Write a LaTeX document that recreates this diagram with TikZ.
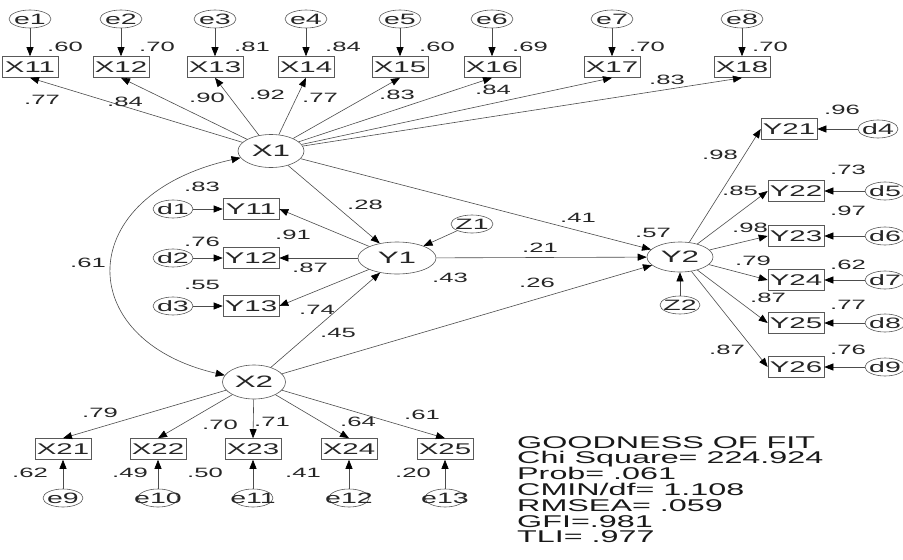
\documentclass[tikz,border=0pt]{standalone}
\usepackage{fontspec}
\setmainfont{Liberation Sans}[FakeStretch=1.9]
\usetikzlibrary{shapes.geometric,arrows.meta}
\newcommand{\zw}[1]{\makebox[0pt]{#1}}
\tikzset{
 lat/.style={ellipse, draw=black!65, line width=0.6pt, inner sep=0pt, text=black!85, font=\fontsize{16.5}{16.5}\selectfont},
 err/.style={ellipse, draw=black!65, line width=0.6pt, inner sep=0pt, minimum width=40pt, minimum height=18pt, text=black!85, font=\fontsize{15}{15}\selectfont},
 obs/.style={rectangle, draw=black!65, line width=0.6pt, inner sep=0pt, minimum width=56pt, minimum height=21pt, text=black!85, font=\fontsize{15.5}{15.5}\selectfont},
 num/.style={inner sep=0pt, text=black!85, font=\fontsize{13.5}{13.5}\selectfont},
 fitline/.style={inner sep=0pt, anchor=base west, text=black!90, font=\fontsize{17}{17}\selectfont},
 tip/.tip={Triangle[length=9pt,width=7pt,color=black]},
 arr/.style={draw=black!70, line width=0.6pt, -tip},
 dbl/.style={draw=black!70, line width=0.6pt, tip-tip},
}
\begin{document}
\begin{tikzpicture}[x=1pt,y=-1pt]
\useasboundingbox[fill=white] (0,0) rectangle (903,560);
% latent variables
\node[lat, minimum width=66pt, minimum height=33pt] (X1) at (271,151) {\zw{X1}};
\node[lat, minimum width=78pt, minimum height=32pt] (Y1) at (397,258) {\zw{Y1}};
\node[lat, minimum width=66pt, minimum height=30pt] (Y2) at (680,257) {\zw{Y2}};
\node[lat, minimum width=63pt, minimum height=34pt] (X2) at (254,382) {\zw{X2}};
\node[err, minimum width=42pt] (Z1) at (472,224) {\zw{Z1}};
\node[err] (Z2) at (680,305) {\zw{Z2}};
% X1 indicators
\foreach \i/\x in {1/30,2/121,3/215,4/306,5/400,6/492,7/612,8/742}{
  \node[err, minimum width=42pt] (e\i) at (\x,19) {\zw{e\i}};
  \node[obs] (X1\i) at (\x,67) {\zw{X1\i}};
  \draw[arr] (e\i) -- (X1\i);
  \draw[arr] (X1) -- (X1\i.south);
}
% Y1 indicators
\foreach \i/\y in {1/209,2/258,3/306}{
  \node[err] (d\i) at (173,\y) {\zw{d\i}};
  \node[obs] (Y1\i) at (251,\y) {\zw{Y1\i}};
  \draw[arr] (d\i) -- (Y1\i);
  \draw[arr] (Y1) -- (Y1\i.east);
}
% Y2 indicators
\foreach \i/\x/\y/\d in {1/789/129/4,2/796/191/5,3/796/236/6,4/796/280/7,5/796/323/8,6/796/367/9}{
  \node[obs] (Y2\i) at (\x,\y) {\zw{Y2\i}};
  \node[err] (d\d) at (\x+89,\y) {\zw{d\d}};
  \draw[arr] (d\d) -- (Y2\i);
  \draw[arr] (Y2) -- (Y2\i.west);
}
% X2 indicators
\foreach \i/\x/\e in {1/63/9,2/158/10,3/253/11,4/349/12,5/445/13}{
  \node[obs] (X2\i) at (\x,449) {\zw{X2\i}};
  \node[err] (e\e) at (\x,498) {\zw{e\e}};
  \draw[arr] (e\e) -- (X2\i);
  \draw[arr] (X2) -- (X2\i.north);
}
% structural paths
\draw[arr] (X1) -- (Y1);
\draw[arr] (X1) -- (Y2);
\draw[arr] (X2) -- (Y1);
\draw[arr] (X2) -- (Y2);
\draw[arr] (Y1) -- (Y2);
\draw[arr] (Z1) -- (Y1);
\draw[arr] (Z2) -- (Y2);
\draw[dbl] (X1) .. controls (72,195) and (72,340) .. (X2);
% numbers
\foreach \t/\x/\y [count=\k] in {
 .60/65/47, .70/157/47, .81/252/47, .84/343/47, .60/437/47, .69/530/47, .70/647/47, .70/770/47,
 .77/42/100, .84/125/102, .90/207/98, .92/267/95, .77/320/98, .83/397/95, .84/493/90, .83/667/80,
 .83/202/187, .76/202/242, .55/202/285,
 .91/293/235, .87/310/268, .74/317/310, .45/338/333, .28/365/205,
 .41/578/218, .21/540/248, .43/450/278, .26/537/283, .57/653/233, .61/88/263,
 .96/842/110, .98/720/155, .73/848/170, .85/740/191, .97/848/211, .98/750/228,
 .62/848/265, .79/753/261, .77/848/305, .87/768/298, .76/848/350, .87/727/350,
 .79/100/413, .70/220/425, .71/272/422, .64/358/422, .61/422/415,
 .62/30/473, .49/130/473, .50/205/473, .41/303/473, .20/413/473}{
  \node[num] (n\k) at (\x,\y) {\t};
}
% fit statistics
\node[fitline] (fit1) at (517,448) {GOODNESS OF FIT};
\node[fitline] (fit2) at (517,463.8) {Chi Square= 224.924};
\node[fitline] (fit3) at (517,479.6) {Prob= .061};
\node[fitline] (fit4) at (517,495.4) {CMIN/df= 1.108};
\node[fitline] (fit5) at (517,511.2) {RMSEA= .059};
\node[fitline] (fit6) at (517,527) {GFI=.981};
\node[fitline] (fit7) at (517,542.8) {TLI= .977};
\end{tikzpicture}
\end{document}
